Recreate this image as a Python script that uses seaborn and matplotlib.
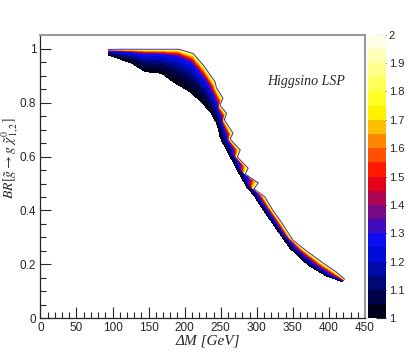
import numpy as np
import matplotlib
matplotlib.use("Agg")
import matplotlib.pyplot as plt
from matplotlib.colors import ListedColormap, BoundaryNorm
import seaborn as sns

# band edges: Delta M [GeV] and BR, paired across the band
# (the upper edge has a saw-tooth of tips and notches between 240 and 310 GeV)
lower_dm = [94, 110, 127, 145, 168, 187, 205, 218, 226, 230, 234, 237, 240, 244, 247, 249,
            252, 256, 259, 263, 266, 274, 278, 286, 297, 309, 325, 346, 371, 397, 418]
lower_br = [0.977, 0.962, 0.946, 0.915, 0.909, 0.872, 0.845, 0.815, 0.795, 0.782, 0.768,
            0.760, 0.745, 0.725, 0.700, 0.674, 0.655, 0.636, 0.620, 0.599, 0.585, 0.544,
            0.525, 0.488, 0.452, 0.402, 0.340, 0.260, 0.198, 0.156, 0.137]
upper_dm = [94, 110, 127, 145, 168, 192, 212, 227, 236, 242, 244, 253, 249, 258, 255, 267,
            263, 277, 273, 288, 284, 302, 296, 311, 322, 335, 350, 368, 392, 411, 422]
upper_br = [0.997, 0.998, 0.998, 0.998, 0.998, 0.998, 0.982, 0.935, 0.900, 0.878, 0.855,
            0.817, 0.790, 0.761, 0.736, 0.687, 0.665, 0.624, 0.598, 0.557, 0.535, 0.502,
            0.480, 0.451, 0.402, 0.353, 0.290, 0.252, 0.205, 0.170, 0.145]
# share of the band width (from the lower edge) that stays dark blue
dark_share = [0.8, 0.8, 0.8, 0.8, 0.8, 0.8, 0.75, 0.72, 0.7, 0.62, 0.68, 0.55, 0.72, 0.55,
              0.7, 0.5, 0.7, 0.5, 0.7, 0.5, 0.68, 0.5, 0.65, 0.55, 0.5, 0.5, 0.48, 0.45,
              0.45, 0.45, 0.45]

palette_stops = ["#00001a", "#0010ff", "#ff0000", "#ffff00", "#ffffe6"]
z_levels = [1.0, 1.05, 1.1, 1.15, 1.2, 1.25, 1.3, 1.35, 1.4, 1.45, 1.5,
            1.55, 1.6, 1.65, 1.7, 1.75, 1.8, 1.85, 1.9, 1.95, 2.0]
cbar_ticks = [1, 1.1, 1.2, 1.3, 1.4, 1.5, 1.6, 1.7, 1.8, 1.9, 2]
cbar_labels = ["1", "1.1", "1.2", "1.3", "1.4", "1.5", "1.6", "1.7", "1.8", "1.9", "2"]
x_ticks = [0, 50, 100, 150, 200, 250, 300, 350, 400, 450]
y_ticks = [0, 0.2, 0.4, 0.6, 0.8, 1]
y_labels = ["0", "0.2", "0.4", "0.6", "0.8", "1"]

sns.set_style("ticks")
plt.rcParams["font.family"] = ["Liberation Sans", "DejaVu Sans"]
plt.rcParams["mathtext.fontset"] = "stix"

fig = plt.figure(figsize=(4.07, 3.54), dpi=100)
ax = fig.add_axes([0.0993, 0.1008, 0.7975, 0.8012])
cax = fig.add_axes([0.904, 0.1008, 0.044, 0.8012])

# mesh rows across the band: lower edge, inside the dark part, end of dark, hot strip, upper edge
d = np.array(dark_share)
frac = np.vstack([0 * d, 0.5 * d, d, d + 0.5 * (1 - d), 0 * d + 1])
row_z = np.array([1.0, 1.1, 1.28, 1.55, 1.85])[:, None]
lx, ux = np.array(lower_dm, float), np.array(upper_dm, float)
ly, uy = np.array(lower_br), np.array(upper_br)
X = lx + frac * (ux - lx)
Y = ly + frac * (uy - ly)
Z = np.repeat(row_z, len(lower_dm), axis=1)

cmap = ListedColormap(sns.blend_palette(palette_stops, n_colors=20))
norm = BoundaryNorm(z_levels, cmap.N)
ax.contourf(X, Y, Z, levels=z_levels, cmap=cmap, norm=norm)
ax.plot(upper_dm, upper_br, color="#5028c8", lw=0.7)

ax.set_xlim(0, 450)
ax.set_ylim(0, 1.052)
ax.set_xticks(x_ticks)
ax.set_yticks(y_ticks)
ax.set_yticklabels(y_labels)
ax.set_xticks(np.arange(0, 451, 10), minor=True)
ax.set_yticks(np.arange(0, 1.05, 0.05), minor=True)
ax.tick_params(which="major", direction="in", length=8, width=0.8, labelsize=8.5, pad=3)
ax.tick_params(which="minor", direction="in", length=4, width=0.8)
for s in ["top", "right"]:
    ax.spines[s].set_color("#999999")
    ax.spines[s].set_linewidth(1.5)
for s in ["left", "bottom"]:
    ax.spines[s].set_linewidth(0.9)

ax.set_xlabel("ΔM [GeV]", family="Liberation Serif", style="italic", fontsize=11,
              ha="center", va="center")
ax.xaxis.set_label_coords(0.515, -0.08)
ax.set_ylabel(r"$BR[\tilde{g} \rightarrow g\ \tilde{\chi}^{0}_{1,2}]$", fontsize=10,
              ha="center", va="center")
ax.yaxis.set_label_coords(-0.092, 0.565)

ax.text(369, 0.877, "Higgsino LSP", family="Liberation Serif", style="italic",
        fontsize=10, ha="center", va="center")

cb = fig.colorbar(plt.cm.ScalarMappable(norm=norm, cmap=cmap), cax=cax)
cb.outline.set_visible(False)
cb.set_ticks(cbar_ticks)
cb.set_ticklabels(cbar_labels)
cax.tick_params(direction="in", length=7, width=0.8, labelsize=8, pad=2)
cax.minorticks_off()

fig.savefig("out.png", dpi=100)
